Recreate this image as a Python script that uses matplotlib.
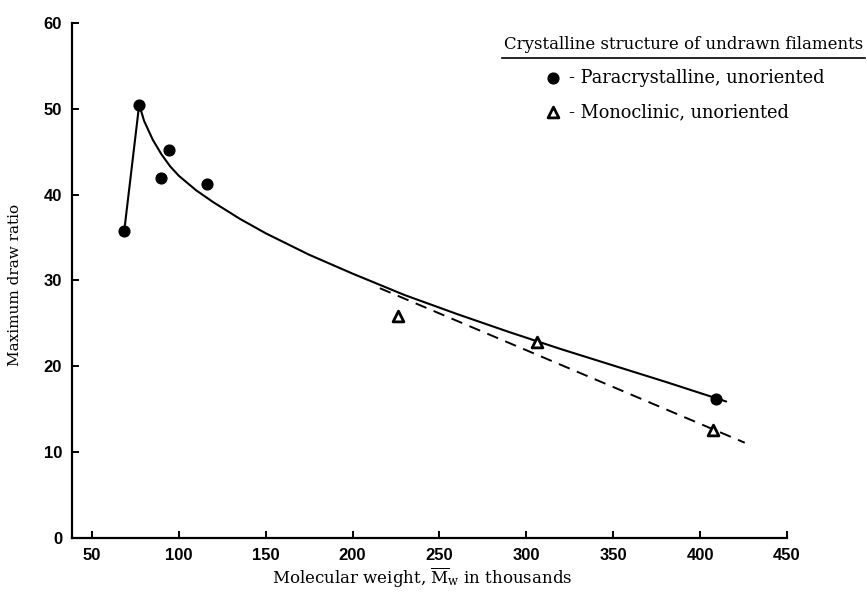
import numpy as np
import matplotlib
matplotlib.use("Agg")
import matplotlib.pyplot as plt
from matplotlib.lines import Line2D

# ---- data -----------------------------------------------------------
para_mw = [68.6, 77.2, 89.7, 94.3, 116.0, 409.4]
para_ratio = [35.8, 50.5, 41.9, 45.2, 41.2, 16.2]

mono_mw = [225.9, 305.9, 407.3]
mono_ratio = [25.9, 22.8, 12.6]

# solid curve drawn through the paracrystalline data
curve_mw = [68.6, 77.2, 80, 85, 90, 95, 100, 110, 120, 135, 150, 175,
            200, 230, 260, 290, 320, 350, 380, 409, 415]
curve_ratio = [35.8, 50.5, 48.6, 46.4, 44.7, 43.3, 42.2, 40.5, 39.1, 37.2,
               35.5, 33.0, 30.8, 28.3, 26.1, 24.0, 22.0, 20.1, 18.2, 16.3,
               15.9]

# dashed line for the monoclinic data
dash_mw = [215.7, 425.7]
dash_ratio = [29.1, 11.1]

x_ticks = [50, 100, 150, 200, 250, 300, 350, 400, 450]
y_ticks = [0, 10, 20, 30, 40, 50, 60]

plt.rcParams['mathtext.fontset'] = 'dejavuserif'

fig = plt.figure(figsize=(8.67, 5.94), dpi=100)
ax = fig.add_axes([0.0830, 0.0943, 0.8247, 0.8670])

ax.plot(curve_mw, curve_ratio, color='black', lw=1.5,
        solid_capstyle='round', solid_joinstyle='round')
ax.plot(dash_mw, dash_ratio, color='black', lw=1.4, linestyle=(0, (6, 4)))

h_para = ax.scatter(para_mw, para_ratio, s=60, color='black', zorder=3)
h_mono = ax.scatter(mono_mw, mono_ratio, s=60, marker='^', facecolor='white',
                    edgecolor='black', linewidths=2, zorder=3)

ax.set_xlim(38.5, 450)
ax.set_ylim(0, 60)
ax.set_xticks(x_ticks)
ax.set_yticks(y_ticks)

for side in ['top', 'right']:
  ax.spines[side].set_visible(False)
ax.spines['left'].set_linewidth(1.6)
ax.spines['bottom'].set_linewidth(1.6)

ax.tick_params(direction='in', length=5, width=1.4, pad=7, labelsize=12,
               labelfontfamily='Liberation Sans')
for lab in ax.get_xticklabels() + ax.get_yticklabels():
  lab.set_fontweight('bold')

ax.set_ylabel('Maximum draw ratio', family='DejaVu Serif', fontsize=11)
ax.yaxis.set_label_coords(-0.080, 0.491)
ax.yaxis.label.set_va('center')
ax.set_xlabel(r'Molecular weight, $\overline{\mathrm{M}}_{\mathrm{w}}$ in thousands',
              family='DejaVu Serif', fontsize=12)
ax.xaxis.set_label_coords(0.49, -0.078)
ax.xaxis.label.set_va('center')

leg = ax.legend([h_para, h_mono],
                ['- Paracrystalline, unoriented', '- Monoclinic, unoriented'],
                title='Crystalline structure of undrawn filaments',
                frameon=False, loc='upper right',
                bbox_to_anchor=(1.107, 0.975),
                prop={'family': 'DejaVu Serif', 'size': 12.8},
                title_fontproperties={'family': 'DejaVu Serif', 'size': 12},
                labelspacing=0.9, handletextpad=0.4, handlelength=1.0,
                borderaxespad=0, borderpad=0)

# underline the legend title
fig.canvas.draw()
bb = leg.get_title().get_window_extent().transformed(fig.transFigure.inverted())
fig.add_artist(Line2D([bb.x0 - 0.002, bb.x1 + 0.002], [bb.y0 - 0.008, bb.y0 - 0.008],
                      color='black', lw=1.2, transform=fig.transFigure))

fig.savefig('out.png', dpi=100)
